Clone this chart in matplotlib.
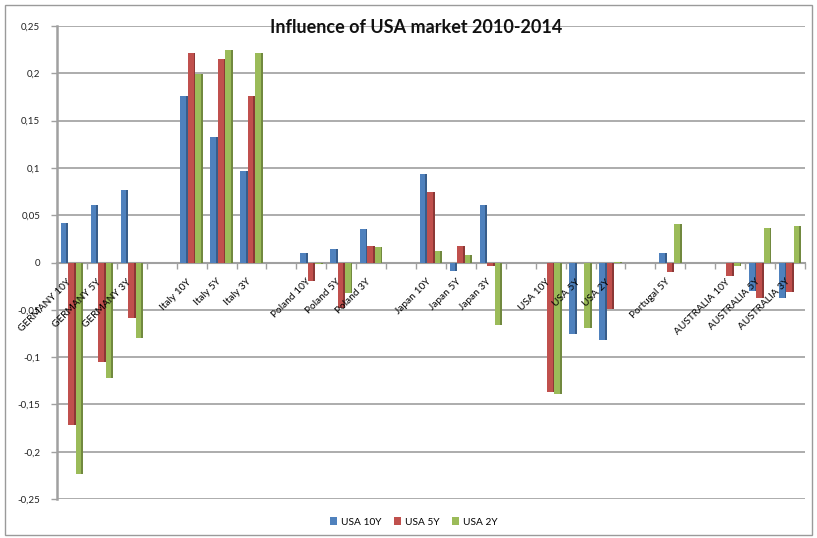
import numpy as np
import matplotlib
matplotlib.use("Agg")
import matplotlib.pyplot as plt
from matplotlib.patches import Patch, Rectangle

plt.rcParams['font.family'] = ['Lato', 'DejaVu Sans']

# slots ('' = empty gap slot)
categories = ["GERMANY 10Y", "GERMANY 5Y", "GERMANY 3Y", "",
              "Italy 10Y", "Italy 5Y", "Italy 3Y", "",
              "Poland 10Y", "Poland 5Y", "Poland 3Y", "",
              "Japan 10Y", "Japan 5Y", "Japan 3Y", "",
              "USA 10Y", "USA 5Y", "USA 2Y", "",
              "Portugal 5Y", "",
              "AUSTRALIA 10Y", "AUSTRALIA 5Y", "AUSTRALIA 3Y"]

usa10 = [0.042, 0.061, 0.077, np.nan,
         0.176, 0.133, 0.097, np.nan,
         0.010, 0.014, 0.035, np.nan,
         0.094, -0.009, 0.061, np.nan,
         -0.001, -0.076, -0.082, np.nan,
         0.010, np.nan,
         -0.001, -0.030, -0.037]
usa5 = [-0.172, -0.105, -0.059, np.nan,
        0.221, 0.215, 0.176, np.nan,
        -0.020, -0.048, 0.017, np.nan,
        0.074, 0.017, -0.004, np.nan,
        -0.137, -0.001, -0.049, np.nan,
        -0.010, np.nan,
        -0.014, -0.037, -0.031]
usa2 = [-0.224, -0.122, -0.080, np.nan,
        0.199, 0.225, 0.221, np.nan,
        -0.002, -0.032, 0.016, np.nan,
        0.012, 0.008, -0.066, np.nan,
        -0.139, -0.069, 0.001, np.nan,
        0.041, np.nan,
        -0.004, 0.036, 0.039]

series_names = ["USA 10Y", "USA 5Y", "USA 2Y"]
series_vals = [usa10, usa5, usa2]
face_colors = ["#4F81BD", "#C0504D", "#9BBB59"]
side_colors = ["#385D8A", "#8C3836", "#71893F"]
yticks = [0.25, 0.2, 0.15, 0.1, 0.05, 0, -0.05, -0.1, -0.15, -0.2, -0.25]
ytick_labels = ["0,25", "0,2", "0,15", "0,1", "0,05", "0", "-0,05", "-0,1", "-0,15", "-0,2", "-0,25"]
title = "Influence of USA market 2010-2014"

W, H = 817, 538
fig = plt.figure(figsize=(W / 100, H / 100), dpi=100)
ax = fig.add_axes([57 / W, 1 - 499 / H, (805 - 57) / W, (499 - 26) / H])

x = np.arange(len(categories))
step = 0.25
face_w = 0.19
side_w = 0.06
for k, (vals, fc, sc) in enumerate(zip(series_vals, face_colors, side_colors)):
    v = np.array(vals, dtype=float)
    off = (k - 1) * step
    ax.bar(x + off - side_w / 2, v, width=face_w, color=fc, zorder=3, linewidth=0)
    ax.bar(x + off + face_w / 2, v, width=side_w, color=sc, zorder=3, linewidth=0)

ax.set_xlim(-0.5, len(categories) - 0.5)
ax.set_ylim(-0.25, 0.25)
ax.set_yticks(yticks)
ax.set_yticklabels(ytick_labels, fontsize=7, color="#222222")
ax.yaxis.grid(True, color="#a6a6a6", linewidth=1.3, zorder=0)
ax.set_axisbelow(True)

ax.set_xticks(np.arange(-0.5, len(categories), 1))
ax.set_xticklabels([])
ax.tick_params(axis="x", direction="out", length=4, color="#a0a0a0", width=1)
ax.tick_params(axis="y", direction="out", length=4, color="#a0a0a0", width=1, pad=8)

for s in ["top", "right"]:
    ax.spines[s].set_visible(False)
ax.spines["bottom"].set_position(("data", 0))
ax.spines["bottom"].set_color("#a0a0a0")
ax.spines["bottom"].set_linewidth(1.5)
ax.spines["left"].set_color("#a0a0a0")
ax.spines["left"].set_linewidth(1.8)

for i, lab in enumerate(categories):
    if not lab:
        continue
    ax.annotate(lab, xy=(i, 0), xycoords="data", xytext=(1, -10.5),
                textcoords="offset points", rotation=45, ha="right", va="top",
                fontsize=7.3, color="#000000", zorder=5)

fig.text(416 / W, 1 - 28 / H, title, ha="center", va="center",
         fontsize=13, fontweight="bold", color="#111111")

handles = [Patch(facecolor=c, edgecolor="none") for c in face_colors]
fig.legend(handles, series_names, loc="center", bbox_to_anchor=(414 / W, 1 - 522 / H),
           ncol=3, frameon=False, fontsize=7.3, handlelength=0.7, handleheight=0.7,
           columnspacing=1.2, handletextpad=0.4)

fig.patches.append(Rectangle((5 / W, 3 / H), (812 - 5) / W, (533 - 3) / H,
                             transform=fig.transFigure, fill=False,
                             edgecolor="#9a9a9a", linewidth=1))

fig.savefig("out.png", dpi=100)
